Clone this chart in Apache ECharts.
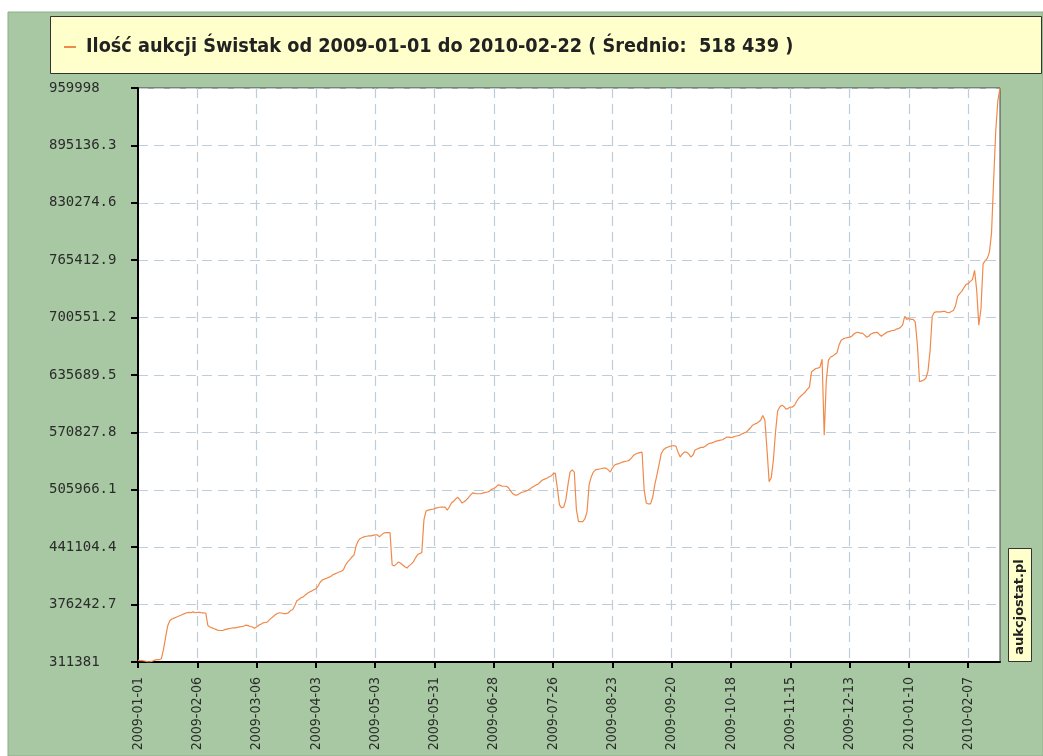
<!DOCTYPE html>
<html>
<head>
<meta charset="utf-8">
<script src="https://cdn.jsdelivr.net/npm/echarts@6/dist/echarts.min.js"></script>
<style>html,body{margin:0;padding:0;background:#fff;}#chart{width:1043px;height:756px;}</style>
</head>
<body>
<div id="chart"></div>
<script>
// ---- data ----
const seriesName = 'Ilość aukcji Świstak od 2009-01-01 do 2010-02-22 ( Średnio:  518 439 )';
const startDate = '2009-01-01';
const endDate = '2010-02-22';
const missingDates = ['2009-01-03','2009-01-04','2009-01-10','2009-01-11','2009-01-17','2009-01-18','2009-01-24','2009-01-25','2009-04-12','2009-04-13'];
const yTicks = [311381, 376242.7, 441104.4, 505966.1, 570827.8, 635689.5, 700551.2, 765412.9, 830274.6, 895136.3, 959998];
const auctionCounts = [
313500,313000,313000,312500,312000,311381,311800,312500,313500,314000,314000,315000,
325000,339000,352000,358000,360000,361000,362000,363000,364000,365000,366000,367000,367500,367000,368000,367000,367500,
367500,367000,367000,366500,352500,351000,350000,349000,348000,347000,347000,347000,
348000,348500,349000,349500,350000,350000,350500,351000,351500,352000,353000,352500,351500,351000,349500,351000,
353000,354000,355500,356000,356500,359000,361000,363000,365000,366500,367000,366500,366000,366000,367000,369500,370500,
375000,380500,382000,384000,385000,387000,389000,390500,391500,393000,394000,397000,401500,404000,405000,406000,407000,408000,410000,411000,412000,413000,414000,415500,
421000,424500,427000,430000,432500,443000,448500,451000,452000,453000,453500,454000,454000,454500,455000,455000,453000,455000,457000,457500,457500,457500,
421000,420000,422000,424500,423000,421000,419000,417500,420000,422000,424500,429000,432500,434000,435000,
472000,482000,483000,483500,484000,484500,485500,486000,486500,486500,486500,483000,486500,
491000,493000,495500,497500,494500,491000,492500,494500,497000,500000,502500,502000,501500,501500,501500,502500,503000,503500,504500,506500,
507500,509000,511500,511000,510000,510000,510000,508000,504500,501500,500000,500000,501500,503000,503500,504500,505500,507000,508500,510000,511500,512500,515000,517000,518000,519000,520500,521500,524000,525000,
508000,489000,485500,486500,494500,511500,526000,528500,526000,483500,470000,470000,470000,473000,481000,511500,520500,526000,528500,529000,529500,530000,530500,530500,528500,526000,
530500,534000,535000,535500,536500,537500,538000,538500,539500,542000,545000,546500,547500,548000,548500,
505500,491000,490000,490000,497500,511500,522500,534000,546500,551000,553000,554000,555000,555500,556000,555000,
548500,543000,546500,548500,548500,546500,543000,545000,551000,552000,553000,554000,554000,555500,557500,558500,559000,560000,561000,561500,562000,562500,
564000,565500,565500,565000,565500,566500,567000,567500,569000,570000,571000,573000,575500,578500,580000,581000,582500,584500,590000,584500,
551000,515000,519500,539500,571000,595000,599500,601500,600000,597000,598000,599500,599500,601500,
606000,609500,612000,614000,616500,619500,622000,639000,641000,643000,643500,644500,653500,567500,630000,652500,656000,657000,659000,660500,
669500,675000,676500,677500,678000,678500,679500,682000,683500,684000,683000,683000,681000,678500,679500,682000,683000,683500,684000,
681500,679500,681500,683000,684500,685000,686000,686000,687500,688000,689500,692000,702000,698500,699500,698500,698500,695500,
669500,628000,629000,630000,632000,640000,663500,702000,706500,707000,707000,707000,707500,707500,706500,706000,707500,708500,
714000,724500,728000,730500,734500,738000,739000,741500,743500,754000,731500,692000,710000,761000,765000,767500,774500,796000,856000,912000,946000,959998
];

// build the list of reported dates (daily, with the gaps in the record skipped)
function buildDates(from, to, skip) {
  const out = [];
  const d = new Date(from + 'T00:00:00Z');
  const end = new Date(to + 'T00:00:00Z');
  while (d <= end) {
    const s = d.toISOString().slice(0, 10);
    if (skip.indexOf(s) < 0) out.push(s);
    d.setUTCDate(d.getUTCDate() + 1);
  }
  return out;
}
const dates = buildDates(startDate, endDate, missingDates);

// ---- chart ----
const chart = echarts.init(document.getElementById('chart'), null, { renderer: 'canvas' });
const gridLine = { color: '#bfcdd8', width: 1.2, type: [10, 6] };
chart.setOption({
  animation: false,
  backgroundColor: '#ffffff',
  graphic: [
    { type: 'rect', z: -10, shape: { x: 8, y: 12, width: 1035, height: 744 },
      style: { fill: '#a7c8a2', stroke: '#8fae8a', lineWidth: 1 } },
    { type: 'rect', z: -5, shape: { x: 50.5, y: 16.5, width: 991, height: 57 },
      style: { fill: '#ffffcc', stroke: '#333333', lineWidth: 1 } },
    { type: 'rect', z: 5, shape: { x: 1008.5, y: 548.5, width: 23, height: 113 },
      style: { fill: '#ffffcc', stroke: '#333333', lineWidth: 1 } },
    { type: 'text', z: 6, x: 1020, y: 607, rotation: Math.PI / 2,
      style: { text: 'aukcjostat.pl', fill: '#222', font: 'bold 13px "DejaVu Sans", sans-serif',
        align: 'center', verticalAlign: 'middle' } }
  ],
  legend: {
    left: 64, top: 36, padding: 0,
    icon: 'rect', itemWidth: 12, itemHeight: 2,
    textStyle: { fontFamily: '"DejaVu Sans Condensed", sans-serif', fontWeight: 'bold', fontSize: 19.7,
      color: '#222', lineHeight: 22, padding: [0, 0, 0, 5] },
    data: [seriesName]
  },
  grid: {
    left: 138, right: 43, top: 88, bottom: 94,
    show: true, backgroundColor: '#ffffff', borderColor: '#444', borderWidth: 1
  },
  xAxis: {
    type: 'category', data: dates, boundaryGap: false,
    axisLine: { lineStyle: { color: '#000', width: 2 } },
    axisTick: { interval: 27, length: 6, lineStyle: { color: '#000', width: 2 } },
    axisLabel: { interval: 27, rotate: 90, margin: 15, color: '#2b2b2b',
      fontFamily: '"DejaVu Sans Condensed", sans-serif', fontSize: 14 },
    splitLine: { show: true, interval: 27, lineStyle: gridLine }
  },
  yAxis: {
    type: 'value', min: yTicks[0], max: yTicks[yTicks.length - 1],
    axisLine: { show: true, lineStyle: { color: '#000', width: 2 } },
    axisTick: { show: true, length: 7, customValues: yTicks, lineStyle: { color: '#000', width: 2 } },
    axisLabel: { customValues: yTicks, align: 'left', margin: 89, color: '#2b2b2b', padding: [6, 0, 0, 0],
      fontFamily: '"DejaVu Sans Mono", monospace', fontSize: 14,
      formatter: v => String(Math.round(v * 10) / 10) },
    splitLine: { show: true, lineStyle: gridLine }
  },
  series: [{
    name: seriesName, type: 'line', data: auctionCounts,
    showSymbol: false, symbol: 'none', sampling: 'none',
    itemStyle: { color: '#f08a4b' },
    lineStyle: { color: '#f08a4b', width: 1.2 }
  }]
});
</script>
</body>
</html>
